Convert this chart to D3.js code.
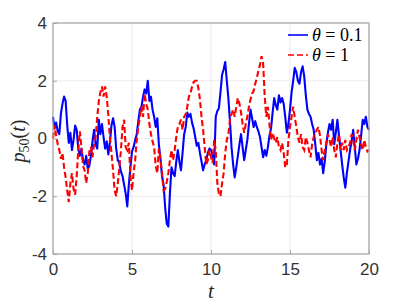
<!DOCTYPE html>
<html><head><meta charset="utf-8">
<script src="https://cdn.jsdelivr.net/npm/d3@7"></script>
<style>html,body{margin:0;padding:0;background:#fff;}svg{display:block;}</style>
</head><body>
<svg id="c" width="407" height="305"></svg>
<script>
const tStep = 0.1;
const blueValues = [0.75,0.35,0.55,0.25,0.15,0.85,1.2,1.45,1.3,0.45,
-0.15,0.2,-0.4,-0.05,0.45,0.3,-0.35,-0.6,-0.35,-0.75,
-0.9,-0.6,-1.05,-0.95,-0.6,-0.1,0.3,-0.2,-0.35,0.65,
0.15,0.5,0.05,-0.35,-0.1,-0.55,-0.15,0.45,0.7,0.4,
-0.35,-0.75,-0.85,-1.15,-1.3,-1.6,-1.9,-2.35,-1.6,-1.0,
-0.45,-0.3,-0.05,0.15,0.6,1.0,1.1,1.45,1.7,1.55,
2.0,1.3,1.45,1.0,0.75,0.4,0.7,-0.2,-0.7,-1.3,
-1.6,-2.4,-2.95,-3.05,-1.9,-1.0,-1.2,-1.3,-0.8,-0.4,
-0.8,-1.1,-0.5,0.15,0.4,0.9,0.75,0.85,0.55,0.35,
0.05,-0.25,-0.15,-0.5,-0.8,-1.1,-0.9,-0.75,-0.5,-0.35,
-0.4,-0.6,-0.9,0.75,0.95,1.05,1.6,2.2,2.4,2.65,
2.0,1.4,0.6,-0.3,-0.9,-1.35,-1.0,-0.6,-0.2,0.15,
-0.3,-0.75,-0.4,-0.05,0.5,1.0,0.7,0.4,0.6,0.4,
0.25,0.05,-0.3,-0.65,-0.4,-0.6,-0.3,0.1,0.35,0.9,
1.4,1.15,1.0,1.5,1.25,1.4,1.2,0.75,0.2,0.5,
1.0,1.6,2.0,2.45,2.3,2.0,1.9,2.3,2.5,2.15,
1.5,1.0,0.85,0.75,0.5,0.3,-0.2,-0.75,-0.5,-0.9,
-0.7,-1.2,-0.8,-0.2,0.2,0.5,0.3,0.65,-0.2,0.2,
0.65,0.1,-0.4,-0.9,-1.35,-1.7,-1.2,-0.8,-0.4,-0.1,
0.3,-0.3,-0.9,-0.7,-0.4,0.1,0.65,0.5,0.75,0.4,
0.3];
const redValues = [0.0,0.45,0.1,-0.2,-0.4,-0.7,-0.5,-1.0,-1.35,-1.8,
-2.2,-1.55,-1.2,-1.75,-1.95,-1.3,-0.4,0.25,-0.3,-0.95,
-1.1,-1.55,-1.2,-0.45,-0.3,-0.65,-0.2,0.05,0.75,1.3,
1.6,1.8,1.45,1.8,1.45,0.8,0.05,-0.5,-1.1,-1.8,
-2.0,-1.55,-1.0,-0.4,0.4,0.65,-0.3,-0.4,-0.15,-1.3,
-1.8,-1.2,-0.75,-0.05,0.4,0.75,1.1,0.75,1.55,1.2,
1.0,0.5,0.15,-0.1,-0.3,-0.95,-1.2,-0.35,-0.7,-1.2,
-1.8,-1.75,-1.5,-1.2,-0.75,-0.4,-0.75,-0.4,0.05,0.4,
0.5,0.65,0.3,0.75,0.85,1.1,1.45,1.55,1.8,1.95,
2.0,2.0,1.75,1.35,0.75,0.3,-0.3,-0.9,-0.75,-0.4,
-0.65,-0.85,-0.05,-0.4,-1.55,-1.9,-2.0,-1.55,-1.2,-0.5,
-0.05,0.15,0.65,0.85,1.0,0.75,1.1,1.4,1.2,0.9,
0.5,0.2,0.5,0.75,1.1,1.35,1.55,1.65,1.9,2.1,
2.35,2.55,2.85,2.6,1.45,0.75,1.1,0.5,-0.05,0.2,
0.0,-0.15,0.05,-0.3,-0.4,-0.15,-0.5,-1.0,-0.9,-0.05,
0.4,0.75,1.1,0.75,0.4,0.05,-0.15,0.15,-0.3,-0.4,
0.05,-0.15,-0.4,-0.65,-0.2,0.05,0.2,0.3,0.4,0.1,
-0.4,-0.75,-0.4,-0.15,0.15,-0.05,-0.3,0.05,-0.4,-0.65,
-0.15,0.15,-0.4,-0.15,-0.4,-0.05,-0.4,-0.3,-0.15,0.15,
-0.05,-0.4,-0.05,0.3,0.05,-0.2,-0.4,-0.05,-0.3,-0.45,
-0.4];
const xTicks = [0,5,10,15,20];
const yTicks = [-4,-2,0,2,4];
const seriesNames = ["θ = 0.1","θ = 1"];
const seriesColors = ["#0000ff","#ff0000"];

const svg = d3.select("#c");
const L=53, R=369, T=23, B=254;
const x = d3.scaleLinear().domain([0,20]).range([L,R]);
const y = d3.scaleLinear().domain([-4,4]).range([B,T]);

// grid
const g = svg.append("g");
g.selectAll("line.gx").data(xTicks).join("line")
 .attr("x1",d=>x(d)).attr("x2",d=>x(d)).attr("y1",T).attr("y2",B)
 .attr("stroke","#ebebeb").attr("stroke-width",1);
g.selectAll("line.gy").data(yTicks).join("line")
 .attr("y1",d=>y(d)).attr("y2",d=>y(d)).attr("x1",L).attr("x2",R)
 .attr("stroke","#ebebeb").attr("stroke-width",1);

// data lines
const line = d3.line().x((d,i)=>x(i*tStep)).y(d=>y(d));
svg.append("path").datum(blueValues).attr("d",line)
 .attr("fill","none").attr("stroke",seriesColors[0]).attr("stroke-width",2.1).attr("stroke-linejoin","round");
svg.append("path").datum(redValues).attr("d",line)
 .attr("fill","none").attr("stroke",seriesColors[1]).attr("stroke-width",2.1)
 .attr("stroke-dasharray","6,3");

// box
svg.append("rect").attr("x",L).attr("y",T).attr("width",R-L).attr("height",B-T)
 .attr("fill","none").attr("stroke","#a6a6a6").attr("stroke-width",1.2);

// axes
const xa = svg.append("g").attr("transform",`translate(0,${B})`)
 .call(d3.axisBottom(x).tickValues(xTicks).tickSize(-4).tickPadding(9).tickFormat(d3.format("d")));
const ya = svg.append("g").attr("transform",`translate(${L},0)`)
 .call(d3.axisLeft(y).tickValues(yTicks).tickSize(-4).tickPadding(6).tickFormat(d=>d<0?"-"+Math.abs(d):String(d)));
[xa,ya].forEach(a=>{
 a.select(".domain").remove();
 a.selectAll(".tick line").attr("stroke","#a6a6a6");
 a.selectAll(".tick text").attr("fill","#333333").style("font-family","'Liberation Sans',Arial,sans-serif").style("font-size","17px");
});

// axis labels
svg.append("text").attr("x",x(10)).attr("y",298).attr("text-anchor","middle")
 .style("font-family","'Liberation Serif','Times New Roman',serif").style("font-style","italic").style("font-size","21px")
 .attr("fill","#262626").text("t");
const yl = svg.append("text").attr("transform","translate(25,141) rotate(-90)").attr("text-anchor","middle")
 .style("font-family","'Liberation Serif','Times New Roman',serif").style("font-size","20px").attr("fill","#262626");
yl.append("tspan").style("font-style","italic").text("p");
yl.append("tspan").attr("dy",4).style("font-size","14px").text("50");
yl.append("tspan").attr("dy",-4).text("(");
yl.append("tspan").style("font-style","italic").text("t");
yl.append("tspan").text(")");

// legend
const lg = svg.append("g");
seriesNames.forEach((n,i)=>{
 const yy = 35 + i*20;
 lg.append("line").attr("x1",288).attr("x2",308).attr("y1",yy).attr("y2",yy)
  .attr("stroke",seriesColors[i]).attr("stroke-width",1.6)
  .attr("stroke-dasharray", i===1?"6,3":null);
 const t = lg.append("text").attr("x",312).attr("y",yy+6)
  .style("font-family","'Liberation Serif','Times New Roman',serif").style("font-size","18px").attr("fill","#000");
 t.append("tspan").style("font-style","italic").text("θ");
 t.append("tspan").text(n.slice(1));
});
</script>
</body></html>
